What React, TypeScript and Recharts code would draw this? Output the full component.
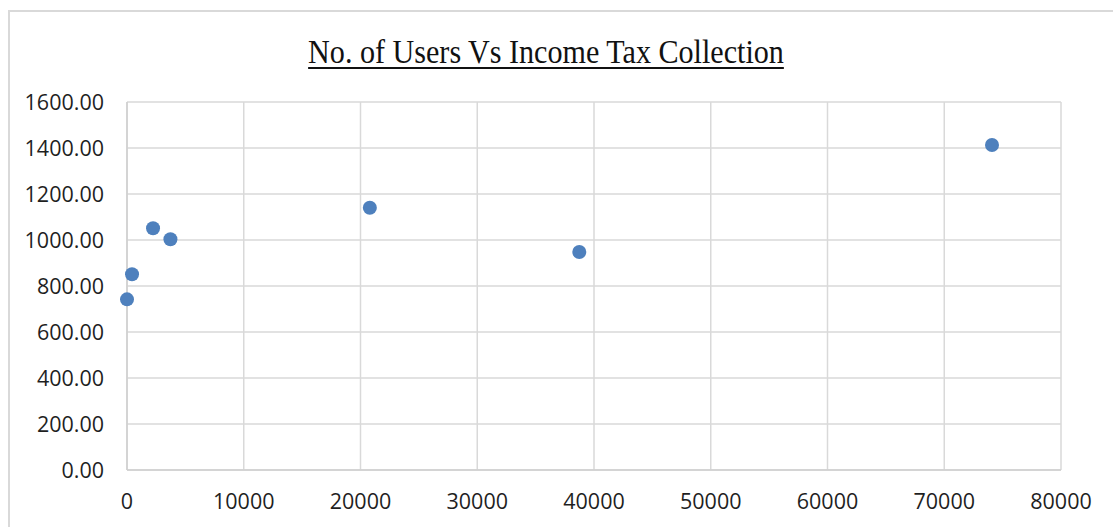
import { ScatterChart, Scatter, XAxis, YAxis, CartesianGrid } from "recharts";

// users (x) against income tax collection (y)
const users = [0, 430, 2230, 3720, 20800, 38740, 74090];
const taxCollection = [742, 851, 1051, 1003, 1140, 948, 1413];

const xTicks = [0, 10000, 20000, 30000, 40000, 50000, 60000, 70000, 80000];
const yTicks = [0, 200, 400, 600, 800, 1000, 1200, 1400, 1600];

const title = "No. of Users Vs Income Tax Collection";

const points = users.map((u, i) => ({ users: u, tax: taxCollection[i] }));

const gridStroke = "#d9d9d9";
const tickStyle = { fill: "#1f1f1f", fontSize: 21.5, fontFamily: "'Open Sans', sans-serif" };
const dotColor = "#4e80bd";

const Dot = (props: any) => <circle cx={props.cx} cy={props.cy} r={7} fill={dotColor} />;

export default function App() {
  return (
    <div style={{ position: "relative", width: 1113, height: 527, overflow: "hidden", background: "#fff" }}>
      <style>{`body{margin:0;overflow:hidden}`}</style>
      <div
        style={{
          position: "absolute",
          left: 8,
          top: 10,
          width: 1300,
          height: 700,
          borderTop: `2px solid ${gridStroke}`,
          borderLeft: `2px solid ${gridStroke}`,
        }}
      />
      <div
        style={{
          position: "absolute",
          left: 0,
          width: 1092,
          top: 32,
          textAlign: "center",
          fontFamily: "'Liberation Serif', serif",
          fontSize: 33,
          lineHeight: "40px",
          color: "#111",
          textDecoration: "underline",
          textDecorationThickness: 2,
          textUnderlineOffset: 4,
          transform: "scaleX(0.912)",
          transformOrigin: "546px 0",
        }}
      >
        {title}
      </div>
      <div style={{ position: "absolute", left: 0, top: 0 }}>
        <ScatterChart width={1113} height={527} margin={{ top: 102, right: 52, bottom: 17, left: 0 }}>
          <CartesianGrid stroke={gridStroke} strokeWidth={1.5} />
          <XAxis
            type="number"
            dataKey="users"
            domain={[0, 80000]}
            ticks={xTicks}
            interval={0}
            height={40}
            tick={tickStyle}
            tickLine={false}
            tickSize={0}
            tickMargin={24}
            axisLine={{ stroke: "#cfcfcf", strokeWidth: 1.5 }}
          />
          <YAxis
            type="number"
            dataKey="tax"
            domain={[0, 1600]}
            ticks={yTicks}
            interval={0}
            width={127}
            tick={tickStyle}
            tickLine={false}
            tickSize={0}
            tickMargin={23}
            tickFormatter={(v: number) => v.toFixed(2)}
            axisLine={{ stroke: "#cfcfcf", strokeWidth: 1.5 }}
          />
          <Scatter data={points} shape={Dot} isAnimationActive={false} />
        </ScatterChart>
      </div>
    </div>
  );
}
